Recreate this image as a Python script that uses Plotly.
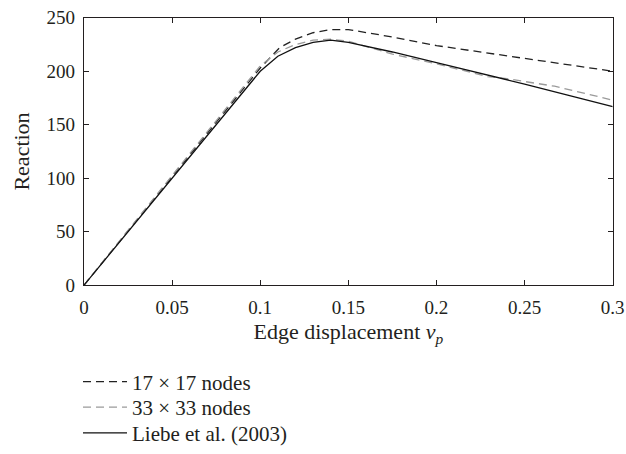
import plotly.graph_objects as go

# Data
x17 = [0, 0.05, 0.10, 0.111, 0.12, 0.13, 0.14, 0.15, 0.175, 0.20, 0.225, 0.25, 0.275, 0.30]
y17 = [0, 101, 203, 222, 230, 236, 239, 239, 232, 224, 218, 212, 206, 200]

x33 = [0, 0.05, 0.10, 0.11, 0.12, 0.13, 0.14, 0.15, 0.175, 0.20, 0.229, 0.24, 0.267, 0.30]
y33 = [0, 102, 205, 218, 225, 229, 230, 228, 216, 207, 195, 193, 186, 173]

xL = [0, 0.05, 0.10, 0.11, 0.12, 0.13, 0.14, 0.15, 0.175, 0.20, 0.25, 0.30]
yL = [0, 100, 200, 214, 222, 227, 229, 227, 218, 208, 188, 167]

names = ["17 × 17 nodes", "33 × 33 nodes", "Liebe et al. (2003)"]
x_ticks = [0, 0.05, 0.1, 0.15, 0.2, 0.25, 0.3]
x_ticktext = ["0", "0.05", "0.1", "0.15", "0.2", "0.25", "0.3"]
y_ticks = [0, 50, 100, 150, 200, 250]

FONT = "Liberation Serif"
INK = "#231f20"
W, H = 626, 454

fig = go.Figure()
fig.add_trace(go.Scatter(x=x17, y=y17, mode="lines", name=names[0], legend="legend",
                         line=dict(color="#222222", width=1.3, dash="8px,5px")))
fig.add_trace(go.Scatter(x=x33, y=y33, mode="lines", name=names[1], legend="legend2",
                         line=dict(color="#9a9a9a", width=1.3, dash="8px,5px")))
fig.add_trace(go.Scatter(x=xL, y=yL, mode="lines", name=names[2], legend="legend3",
                         line=dict(color="#111111", width=1.3)))

axis_common = dict(
    showgrid=False, zeroline=False, showline=True, linecolor=INK, linewidth=1.3,
    mirror="allticks", ticks="inside", ticklen=5, tickcolor=INK, automargin=False,
    tickfont=dict(family=FONT, size=19, color=INK),
)

fig.update_xaxes(range=[0, 0.3], tickvals=x_ticks, ticktext=x_ticktext,
                 domain=[84 / W, 612.7 / W], ticklabelstandoff=5,
                 title=dict(text="Edge displacement <i>v</i><sub><i>p</i></sub>",
                            font=dict(family=FONT, size=22, color=INK), standoff=6),
                 **axis_common)
fig.update_yaxes(range=[0, 250], tickvals=y_ticks,
                 domain=[165 / H, 1 - 18 / H], ticklabelstandoff=4,
                 title=dict(text="Reaction", font=dict(family=FONT, size=22, color=INK), standoff=10),
                 **axis_common)

def leg(py):
    return dict(x=78 / W, y=1 - py / H, xanchor="left", yanchor="middle",
                font=dict(family=FONT, size=21, color=INK),
                bgcolor="rgba(0,0,0,0)", itemwidth=44)

fig.update_layout(
    width=W, height=H,
    margin=dict(l=0, r=0, t=0, b=0),
    plot_bgcolor="white", paper_bgcolor="white",
    font=dict(family=FONT, color=INK),
    showlegend=True,
    legend=leg(387),
    legend2=leg(413),
    legend3=leg(439),
)

fig.write_html("out.html")
